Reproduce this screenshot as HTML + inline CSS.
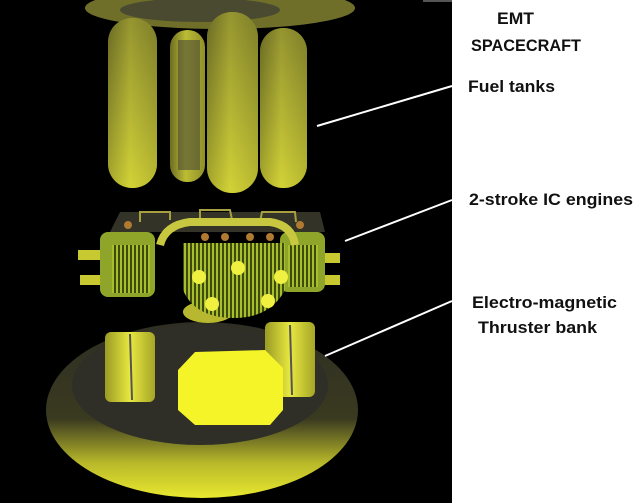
<!DOCTYPE html>
<html><head><style>
html,body{margin:0;padding:0;background:#fff;}
svg{display:block;}
text{font-family:"Liberation Sans",sans-serif;font-weight:bold;font-size:17px;fill:#111;}
</style></head><body>
<svg width="634" height="503" viewBox="0 0 634 503" xmlns="http://www.w3.org/2000/svg">
<defs>
<linearGradient id="tank" x1="0" x2="1" y1="0" y2="0">
<stop offset="0" stop-color="#6d6d22"/><stop offset="0.45" stop-color="#bcbc35"/><stop offset="1" stop-color="#8f8f2a"/>
</linearGradient>
<linearGradient id="tankv" x1="0" x2="0" y1="0" y2="1">
<stop offset="0" stop-color="#66662a"/><stop offset="0.6" stop-color="#b5b535"/><stop offset="1" stop-color="#eeee3a"/>
</linearGradient>
<linearGradient id="base" x1="0" x2="0" y1="0" y2="1">
<stop offset="0" stop-color="#2e2e24"/><stop offset="0.55" stop-color="#3a3a20"/><stop offset="0.8" stop-color="#b8b82a"/><stop offset="1" stop-color="#e8e830"/>
</linearGradient>
<linearGradient id="cyl" x1="0" x2="1" y1="0" y2="0">
<stop offset="0" stop-color="#9a9a25"/><stop offset="0.5" stop-color="#e8e840"/><stop offset="1" stop-color="#a5a528"/>
</linearGradient>
<pattern id="fins" width="4" height="10" patternUnits="userSpaceOnUse">
<rect width="4" height="10" fill="#3f4a10"/><rect width="2" height="10" fill="#a7bf2a"/>
</pattern>
</defs>
<rect x="0" y="0" width="452" height="503" fill="#000"/>
<rect x="423" y="0" width="29" height="2" fill="#555"/>
<!-- top disk -->
<ellipse cx="220" cy="8" rx="135" ry="21" fill="#6f6f2a"/>
<ellipse cx="200" cy="10" rx="80" ry="12" fill="#4a4a30"/>
<!-- tanks -->
<rect x="170" y="30" width="35" height="152" rx="17" fill="url(#tank)"/>
<rect x="178" y="40" width="22" height="130" fill="#4a4a35" opacity="0.6"/>
<rect x="108" y="18" width="49" height="170" rx="24" fill="url(#tank)"/>
<rect x="108" y="18" width="49" height="170" rx="24" fill="url(#tankv)" opacity="0.45"/>
<rect x="207" y="12" width="51" height="181" rx="25" fill="url(#tank)"/>
<rect x="207" y="12" width="51" height="181" rx="25" fill="url(#tankv)" opacity="0.45"/>
<rect x="260" y="28" width="47" height="160" rx="23" fill="url(#tank)"/>
<rect x="260" y="28" width="47" height="160" rx="23" fill="url(#tankv)" opacity="0.45"/>
<!-- base -->
<ellipse cx="202" cy="410" rx="156" ry="88" fill="url(#base)"/>
<ellipse cx="200" cy="385" rx="128" ry="60" fill="#2f2f27"/>
<!-- thruster cylinders -->
<rect x="105" y="332" width="50" height="70" rx="6" fill="url(#cyl)"/>
<line x1="130" y1="334" x2="132" y2="400" stroke="#555" stroke-width="2"/>
<rect x="265" y="322" width="50" height="75" rx="6" fill="url(#cyl)"/>
<line x1="290" y1="325" x2="292" y2="395" stroke="#555" stroke-width="2"/>
<polygon points="195,352 265,350 283,368 283,410 270,425 195,425 178,410 178,370" fill="#f4f428"/>
<!-- pivot -->
<ellipse cx="208" cy="312" rx="25" ry="11" fill="#b8b830"/>
<!-- engines side -->
<rect x="78" y="250" width="40" height="10" fill="#c8c830"/>
<rect x="80" y="275" width="40" height="10" fill="#c8c830"/>
<rect x="300" y="253" width="40" height="10" fill="#c8c830"/>
<rect x="300" y="275" width="40" height="10" fill="#c8c830"/>
<path d="M110 232 L120 212 L320 212 L325 232 Z" fill="#333328"/>
<g stroke="#a8a040" stroke-width="2" fill="none">
<path d="M140 222 L140 212 L170 212 L170 220"/><path d="M200 220 L200 210 L230 210 L232 220"/><path d="M260 222 L262 212 L295 212 L296 222"/>
</g>
<rect x="100" y="232" width="55" height="65" rx="8" fill="#8ea52a"/>
<rect x="112" y="245" width="38" height="48" fill="url(#fins)"/>
<rect x="280" y="232" width="45" height="60" rx="8" fill="#8ea52a"/>
<rect x="288" y="245" width="30" height="42" fill="url(#fins)"/>
<path d="M160 245 Q165 225 190 222 L270 222 Q292 225 295 245" stroke="#c8c840" stroke-width="8" fill="none"/>
<!-- center fin block -->
<path d="M183 243 L285 243 L285 290 Q270 318 234 318 Q195 318 183 290 Z" fill="url(#fins)"/>
<circle cx="238" cy="268" r="7" fill="#f0f040"/>
<circle cx="199" cy="277" r="7" fill="#f0f040"/>
<circle cx="281" cy="277" r="7" fill="#f0f040"/>
<circle cx="212" cy="304" r="7" fill="#f0f040"/>
<circle cx="268" cy="301" r="7" fill="#f0f040"/>
<g fill="#b07a30"><circle cx="205" cy="237" r="4"/><circle cx="225" cy="237" r="4"/><circle cx="250" cy="237" r="4"/><circle cx="270" cy="237" r="4"/><circle cx="128" cy="225" r="4"/><circle cx="300" cy="225" r="4"/></g>
<!-- leader lines -->
<line x1="317" y1="126" x2="452" y2="86" stroke="#fff" stroke-width="2"/>
<line x1="345" y1="241" x2="452" y2="200" stroke="#fff" stroke-width="2"/>
<line x1="325" y1="356" x2="452" y2="301" stroke="#fff" stroke-width="2"/>
<!-- labels -->
<text x="497" y="24" textLength="37" lengthAdjust="spacingAndGlyphs">EMT</text>
<text x="471" y="51" textLength="110" lengthAdjust="spacingAndGlyphs">SPACECRAFT</text>
<text x="468" y="92" textLength="87" lengthAdjust="spacingAndGlyphs">Fuel tanks</text>
<text x="469" y="205" textLength="164" lengthAdjust="spacingAndGlyphs">2-stroke IC engines</text>
<text x="472" y="308" textLength="145" lengthAdjust="spacingAndGlyphs">Electro-magnetic</text>
<text x="478" y="333" textLength="119" lengthAdjust="spacingAndGlyphs">Thruster bank</text>
</svg>
</body></html>
